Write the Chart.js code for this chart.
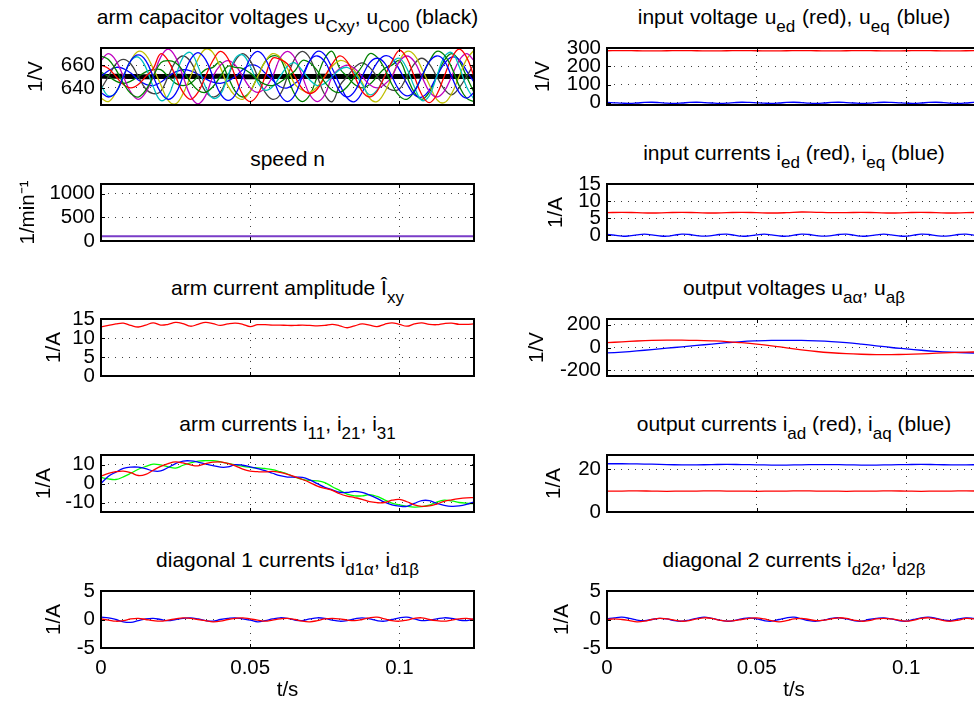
<!DOCTYPE html>
<html><head><meta charset="utf-8">
<script src="https://cdn.jsdelivr.net/npm/chart.js@4.4.1/dist/chart.umd.min.js"></script>
<style>
html,body{margin:0;padding:0;overflow:hidden;background:#fff;width:974px;height:707px;position:relative;}
canvas{position:absolute;}
.title{position:absolute;font-family:"Liberation Sans",Arial,sans-serif;font-size:21px;line-height:20px;white-space:nowrap;text-align:center;color:#000;z-index:2;}
.title sub{font-size:17px;vertical-align:-8px;line-height:0;}
</style></head>
<body>
<script>
// ---------- time axes ----------
const tFine = [0,0.0025,0.005,0.0075,0.01,0.0125,0.015,0.0175,0.02,0.0225,0.025,0.0275,0.03,0.0325,0.035,0.0375,0.04,0.0425,0.045,0.0475,0.05,0.0525,0.055,0.0575,0.06,0.0625,0.065,0.0675,0.07,0.0725,0.075,0.0775,0.08,0.0825,0.085,0.0875,0.09,0.0925,0.095,0.0975,0.1,0.1025,0.105,0.1075,0.11,0.1125,0.115,0.1175,0.12,0.1225,0.125];
const tCoarse = [0,0.005,0.01,0.015,0.02,0.025,0.03,0.035,0.04,0.045,0.05,0.055,0.06,0.065,0.07,0.075,0.08,0.085,0.09,0.095,0.1,0.105,0.11,0.115,0.12,0.125];
const xTicks = [0,0.05,0.1];

// ---------- arm capacitor voltages ----------
const uC1 = [636,632,636,650,664,669,664,650,636,630,635,650,665,671,665,650,635,629,634,650,666,672,666,650,634,628,634,650,664,668,663,650,637,632,637,650,662,666,662,650,638,633,637,650,663,668,664,650,636,631,636];
const uC2 = [668,665,656,644,635,632,638,650,662,664,662,655,645,638,636,641,650,659,658,657,653,647,643,642,645,650,655,664,662,655,645,638,636,641,650,659,670,667,657,643,633,630,637,650,663,672,669,658,642,631,628];
const uC3 = [660,657,650,643,640,643,650,657,670,664,650,636,630,636,650,664,672,666,650,634,628,634,650,666,665,661,650,639,635,639,650,661,668,663,650,637,632,637,650,663,673,666,650,634,627,634,650,666,674,667,650];
const uC4 = [642,633,636,650,664,667,658,641,629,633,650,667,671,659,641,631,634,650,666,669,659,645,638,641,650,659,662,655,647,642,644,650,656,658,653,643,634,638,650,662,666,657,641,629,633,650,667,671,659,641,630];
const uC5 = [664,670,664,650,636,630,636,650,667,674,667,650,633,626,633,650,660,664,660,650,640,636,640,650,666,672,666,650,634,628,634,650,657,660,657,650,643,640,643,650,663,668,663,650,637,632,637,650,664,670,664];
const uC6 = [631,628,636,650,664,672,669,657,643,629,626,635,650,665,674,671,658,642,633,630,637,650,663,670,667,657,643,638,636,641,650,659,664,662,655,645,631,628,636,650,664,672,669,657,643,630,627,635,650,665,673];
const uC7 = [639,650,661,665,661,650,639,635,637,650,663,668,663,650,637,632,636,650,664,670,664,650,636,630,634,650,666,672,666,650,634,628,642,650,658,662,658,650,642,638,639,650,661,666,661,650,639,634,640,650,661];
const uC8 = [650,655,658,657,653,647,643,642,645,650,654,656,655,652,648,645,644,646,650,656,660,659,653,647,641,640,644,650,664,672,669,657,643,631,628,636,650,662,668,666,656,644,634,632,638,650,661,667,665,655,645];
const uC9 = [654,650,646,644,646,650,654,656,656,650,644,642,644,650,656,658,663,650,637,632,637,650,663,668,666,650,634,628,634,650,666,672,657,650,643,640,643,650,657,660,664,650,636,630,636,650,664,670,664,650,636];
const uC00 = [650.2,650.1,650.3,650.2,650,649.9,649.8,649.9,650,650.1,650.2,650.1,650,649.9,650,650.1,650.2,650.2,650,649.9,649.8,649.9,650,650.1,650,650,650,649.9,650,650.1,650.2,650.1,650,649.9,650,650,650.1,650,650,649.9,650,650,650.1,650.2,650,649.9,650,650,650.1,650,650];
const capTicks = [640,660];

// ---------- input voltage ----------
const uEd = [285,286,285,284,285,286,285,284,285,286,285,284,285,286,285,284,285,286,285,284,285,286,285,284,285,286];
const uEq = [2,0,-2,-3,-1,2,3,1,-2,-3,-1,2,3,1,-1,-3,-2,1,3,2,0,-2,-3,-1,2,3,1,-2,-3,-1,2,3,1,-1,-3,-2,1,3,2,0,-2,-3,-1,2,3,1,-2,-3,-1,2,3];
const uInTicks = [0,100,200,300];

// ---------- speed ----------
const speedN = [100,100,101,100,99,100,100,101,100,99,100,100,101,100,99,100,100,101,100,99,100,100,101,100,99,100];
const speedTicks = [0,500,1000];

// ---------- input currents ----------
const iEd = [6.6,6.7,6.6,6.5,6.6,6.7,6.6,6.5,6.6,6.7,6.6,6.5,6.6,6.8,6.7,6.6,6.6,6.7,6.6,6.5,6.6,6.7,6.6,6.5,6.6,6.7];
const iEq = [0.2,0.0,-0.3,-0.2,0.1,0.3,0.1,-0.2,-0.3,0.0,0.3,0.2,-0.1,-0.3,-0.1,0.2,0.3,0.0,-0.3,-0.2,0.1,0.3,0.1,-0.2,-0.3,0.0,0.3,0.2,-0.1,-0.3,-0.1,0.2,0.3,0.0,-0.3,-0.2,0.1,0.3,0.1,-0.2,-0.3,0.0,0.3,0.2,-0.1,-0.3,-0.1,0.2,0.3,0.0,-0.2];
const iInTicks = [0,5,10,15];

// ---------- arm current amplitude ----------
const iAmp = [12.9,13.3,13.7,13.9,13.3,12.9,13.4,14.0,13.4,13.6,14.1,13.8,13.1,13.6,14.1,13.8,13.3,13.7,13.9,13.6,13.0,13.5,13.5,13.4,13.4,13.3,13.3,13.4,13.3,13.2,13.3,13.6,13.2,12.7,13.2,13.7,13.4,13.0,13.6,14.0,13.6,13.1,13.7,14.0,13.6,13.5,13.8,13.9,13.6,13.6,13.7];
const ampTicks = [0,5,10,15];

// ---------- output voltages ----------
const uAlpha = [42,50,57,62,64,64,62,58,52,42,30,15,-3,-20,-35,-46,-54,-59,-62,-62,-60,-56,-50,-45,-41,-38];
const uBeta = [-48,-40,-30,-18,-6,6,18,30,42,52,58,62,63,62,58,52,43,30,15,0,-12,-24,-34,-41,-46,-50];
const uOutTicks = [-200,0,200];

// ---------- arm currents ----------
const i11 = [3.9,5.3,6.2,6.5,5.7,4.2,4.8,7.0,9.0,10.5,11.4,10.8,9.8,9.3,10.4,11.2,11.4,10.6,9.3,7.6,6.5,6.2,6.1,6.4,5.8,4.8,3.5,2.1,0.5,-1.4,-2.6,-3.6,-5.4,-6.6,-7.4,-8.3,-9.6,-10.1,-10.0,-8.8,-8.4,-9.6,-11.2,-12.0,-11.8,-10.8,-9.4,-8.6,-8.0,-7.6,-7.4];
const i21 = [0,3.8,6.0,7.9,8.6,8.6,7.8,6.6,6.6,8.4,10.5,11.8,11.9,11.3,10.3,9.4,8.6,8.7,9.9,9.6,8.8,7.8,6.8,5.4,4.1,3.4,3.3,3.2,1.9,-0.1,-2.0,-3.3,-4.6,-4.7,-4.1,-4.7,-6.1,-7.8,-9.8,-11.2,-11.9,-12.0,-10.5,-9.0,-9.0,-10.5,-11.5,-12.0,-11.8,-11.0,-9.7];
const i31 = [3.2,2.4,2.1,3.5,5.4,7.5,9.0,10.2,9.8,8.8,8.1,9.6,10.8,11.8,12.0,12.0,11.4,10.6,9.8,9.0,8.5,8.2,7.9,7.3,6.2,5.0,3.3,2.2,1.6,1.4,0.5,-1.7,-3.6,-5.6,-6.5,-6.5,-5.9,-6.8,-8.6,-10.3,-11.3,-12.0,-12.4,-12.2,-11.4,-9.8,-8.8,-9.2,-10.0,-10.4,-10.6];
const armTicks = [-10,0,10];

// ---------- output currents ----------
const iAd = [9.8,9.8,9.9,9.8,9.7,9.8,9.8,9.9,9.8,9.8,9.7,9.8,9.8,9.9,9.8,9.8,9.7,9.8,9.8,9.9,9.8,9.7,9.8,9.8,9.9,9.8];
const iAq = [22.6,22.6,22.5,22.4,22.2,22.1,22.1,22.2,22.3,22.2,22.1,22.0,22.0,22.1,22.2,22.2,22.1,22.0,22.0,22.1,22.2,22.3,22.2,22.1,22.1,22.2];
const iOutTicks = [0,20];

// ---------- diagonal currents ----------
const id1Alpha = [0.1,-0.1,-0.3,-0.2,0.1,0.2,0.0,-0.2,-0.3,-0.1,0.1,0.3,0.2,0.0,-0.2,-0.4,-0.3,0.0,0.2,0.3,0.1,-0.1,-0.3,-0.1,0.1,0.2,0.0,-0.3,-0.4,-0.2,0.1,0.2,0.1,-0.1,-0.2,0.0,0.3,0.4,0.1,-0.2,-0.3,-0.1,0.2,0.3,0.0,-0.2,-0.3,-0.1,0.1,0.2,0.0];
const id1Beta = [0.4,0.3,0.0,-0.4,-0.5,-0.2,0.1,0.2,0.0,-0.2,0.0,0.2,0.3,0.1,-0.2,-0.3,0.0,0.2,0.3,0.1,-0.1,-0.4,-0.2,0.1,0.3,0.2,-0.1,-0.2,0.1,0.3,0.2,-0.1,-0.3,-0.2,0.1,0.3,0.1,-0.2,-0.3,0.0,0.3,0.4,0.1,-0.2,-0.1,0.1,0.3,0.2,-0.1,-0.2,0.1];
const id2Alpha = [0.0,0.1,0.0,-0.2,-0.4,-0.3,0.0,0.2,0.1,-0.1,-0.3,-0.2,0.1,0.3,0.2,-0.1,-0.3,-0.2,0.0,0.2,0.3,0.1,-0.2,-0.4,-0.2,0.1,0.2,0.0,-0.2,-0.1,0.1,0.3,0.2,-0.1,-0.3,-0.2,0.1,0.2,0.1,-0.1,-0.3,-0.1,0.2,0.3,0.1,-0.2,-0.3,-0.1,0.2,0.1,0.0];
const id2Beta = [0.1,0.3,0.4,0.2,-0.1,-0.2,0.0,0.2,0.1,-0.2,-0.3,-0.1,0.2,0.4,0.2,-0.1,-0.3,-0.2,0.1,0.3,0.1,-0.2,-0.3,0.0,0.3,0.4,0.1,-0.2,-0.3,-0.1,0.2,0.3,0.1,-0.2,-0.3,0.0,0.2,0.3,0.1,-0.2,-0.3,0.0,0.3,0.4,0.2,-0.1,-0.2,0.1,0.3,0.2,0.0];
const diagTicks = [-5,0,5];

// ---------- colours ----------
const RED='#ff0000', BLUE='#0000ff', GREEN='#00ff00', DGREEN='#008000', CYAN='#00bfbf', MAG='#bf00bf', OLIVE='#bfbf00', GRAY='#404040';

function pts(t, v){ return t.map((x,i)=>({x:x, y:v[i]})); }
function ds(t, v, color, w){ return {data:pts(t,v), borderColor:color, borderWidth:w||1.3, pointRadius:0, tension:0.4, fill:false}; }

const FONT = "'Liberation Sans', Arial, Helvetica, sans-serif";
const FS = 20.5;
Chart.defaults.font.family = FONT;
Chart.defaults.font.size = FS;
Chart.defaults.color = '#000';

const cols = [
  {canvasLeft:0, canvasW:490, plotL:101, plotR:474},
  {canvasLeft:490, canvasW:510, plotL:607, plotR:981}
];
const rowTops = [48,184,319,455,591];
const PLOT_H = 57;

const panels = [
  {col:0,row:0,title:'arm capacitor voltages u<sub>Cxy</sub>, u<sub>C00</sub> (black)',sub:true,ws:0,ylabel:'1/V',labX:36,ymin:625,ymax:675,yticks:capTicks,
   sets:[ds(tFine,uC1,BLUE),ds(tFine,uC2,DGREEN),ds(tFine,uC3,RED),ds(tFine,uC4,CYAN),ds(tFine,uC5,MAG),ds(tFine,uC6,OLIVE),ds(tFine,uC7,GRAY),ds(tFine,uC8,BLUE),ds(tFine,uC9,DGREEN),ds(tFine,uC00,'#000000',5)]},
  {col:1,row:0,title:'input voltage u<sub>ed</sub> (red), u<sub>eq</sub> (blue)',sub:true,ws:1,ylabel:'1/V',labX:53,ymin:-12,ymax:300,yticks:uInTicks,
   sets:[ds(tCoarse,uEd,RED),ds(tFine,uEq,BLUE)]},
  {col:0,row:1,title:'speed n',sub:false,ylabel:'1/min\u207B\u00B9',labX:28,ymin:0,ymax:1200,yticks:speedTicks,
   sets:[ds(tCoarse,speedN,'#7a3cc8',2)]},
  {col:1,row:1,title:'input currents i<sub>ed</sub> (red), i<sub>eq</sub> (blue)',sub:true,ylabel:'1/A',labX:66,ymin:-1.7,ymax:15,yticks:iInTicks,
   sets:[ds(tCoarse,iEd,RED),ds(tFine,iEq,BLUE)]},
  {col:0,row:2,title:'arm current amplitude \u00CE<sub>xy</sub>',sub:true,ylabel:'1/A',labX:54,ymin:0,ymax:15,yticks:ampTicks,
   sets:[ds(tFine,iAmp,RED)]},
  {col:1,row:2,title:'output voltages u<sub>a\u03B1</sub>, u<sub>a\u03B2</sub>',sub:true,ylabel:'1/V',labX:47,ymin:-250,ymax:250,yticks:uOutTicks,
   sets:[ds(tCoarse,uAlpha,RED),ds(tCoarse,uBeta,BLUE)]},
  {col:0,row:3,title:'arm currents i<sub>11</sub>, i<sub>21</sub>, i<sub>31</sub>',sub:true,ylabel:'1/A',labX:44,ymin:-15,ymax:15,yticks:armTicks,
   sets:[ds(tFine,i11,RED),ds(tFine,i21,BLUE),ds(tFine,i31,GREEN)]},
  {col:1,row:3,title:'output currents i<sub>ad</sub> (red), i<sub>aq</sub> (blue)',sub:true,ylabel:'1/A',labX:64,ymin:0,ymax:26.7,yticks:iOutTicks,
   sets:[ds(tCoarse,iAd,RED),ds(tCoarse,iAq,BLUE)]},
  {col:0,row:4,title:'diagonal 1 currents i<sub>d1\u03B1</sub>, i<sub>d1\u03B2</sub>',sub:true,ylabel:'1/A',labX:54,ymin:-5,ymax:5,yticks:diagTicks,
   sets:[ds(tFine,id1Alpha,RED),ds(tFine,id1Beta,BLUE)]},
  {col:1,row:4,title:'diagonal 2 currents i<sub>d2\u03B1</sub>, i<sub>d2\u03B2</sub>',sub:true,ylabel:'1/A',labX:72,ymin:-5,ymax:5,yticks:diagTicks,
   sets:[ds(tFine,id2Alpha,RED),ds(tFine,id2Beta,BLUE)]}
];

const framePlugin = {
  id:'frame',
  afterDraw(chart){
    const {ctx, chartArea:a} = chart;
    const xs = chart.scales.x, ys = chart.scales.y;
    const L=Math.round(a.left), R=Math.round(a.right), T=Math.round(a.top), B=Math.round(a.bottom);
    ctx.save();
    ctx.strokeStyle='#000';
    ctx.lineWidth=1;
    ctx.beginPath();
    const tl=4;
    xs.ticks.forEach(tk=>{const px=Math.round(xs.getPixelForValue(tk.value))+0.5; ctx.moveTo(px,B); ctx.lineTo(px,B-tl); ctx.moveTo(px,T); ctx.lineTo(px,T+tl);});
    ys.ticks.forEach(tk=>{const py=Math.round(ys.getPixelForValue(tk.value))+0.5; ctx.moveTo(L,py); ctx.lineTo(L+tl,py); ctx.moveTo(R,py); ctx.lineTo(R-tl,py);});
    ctx.stroke();
    ctx.lineWidth=2;
    ctx.strokeRect(L,T,R-L,B-T);
    ctx.restore();
  }
};

function zeroPad(s){ s.paddingLeft=0; s.paddingRight=0; s.paddingTop=0; s.paddingBottom=0; }

panels.forEach((p,idx)=>{
  const c = cols[p.col];
  const top = rowTops[p.row];
  const isBottom = p.row === 4;
  const cTop = top - 12;
  const cH = isBottom ? (707 - cTop) : (PLOT_H + 24);
  const cv = document.createElement('canvas');
  cv.width = c.canvasW; cv.height = cH;
  cv.style.left = c.canvasLeft+'px'; cv.style.top = cTop+'px';
  cv.style.width = c.canvasW+'px'; cv.style.height = cH+'px';
  document.body.appendChild(cv);

  // title centred over the plot area (wide box so long titles stay centred)
  const t = document.createElement('div');
  t.className='title';
  t.innerHTML = p.title;
  const extra = 80;
  t.style.left = (c.plotL - extra)+'px';
  t.style.width = (c.plotR - c.plotL + 2*extra)+'px';
  t.style.top = (top - (p.sub ? 41 : 35))+'px';
  if (p.ws) t.style.wordSpacing = p.ws+'px';
  document.body.appendChild(t);

  const yW = c.plotL - c.canvasLeft;
  const padR = c.canvasW - (c.plotR - c.canvasLeft);
  const yt = p.yticks, xt = xTicks;
  new Chart(cv.getContext('2d'), {
    type:'line',
    data:{datasets:p.sets},
    plugins:[framePlugin],
    options:{
      responsive:false, animation:false, devicePixelRatio:1,
      events:[],
      layout:{padding:{left:0,right:padR,top:12,bottom:isBottom?0:12}, autoPadding:false},
      plugins:{legend:{display:false},tooltip:{enabled:false},title:{display:false}},
      scales:{
        x:{type:'linear', min:0, max:0.125,
           afterBuildTicks:s=>{s.ticks = xt.map(v=>({value:v}));},
           afterFit:s=>{s.height = isBottom ? 59 : 0; zeroPad(s);},
           grid:{color:'rgba(0,0,0,0.75)', lineWidth:1, drawTicks:false},
           border:{display:false, dash:[1,6]},
           ticks:{display:isBottom, padding:8, maxRotation:0, autoSkip:false, callback:v=>String(v)},
           title:{display:isBottom, text:'t/s', font:{size:FS}, padding:{top:0,bottom:4}}
        },
        y:{type:'linear', min:p.ymin, max:p.ymax,
           afterBuildTicks:s=>{s.ticks = yt.map(v=>({value:v}));},
           afterFit:s=>{s.width = yW; zeroPad(s);},
           grid:{color:'rgba(0,0,0,0.75)', lineWidth:1, drawTicks:false},
           border:{display:false, dash:[1,6]},
           ticks:{padding:6, autoSkip:false, callback:v=>String(v)},
           title:{display:true, text:p.ylabel, font:{size:FS}, padding:{top:p.labX-12, bottom:0}}
        }
      }
    }
  });
});
</script>
</body></html>
